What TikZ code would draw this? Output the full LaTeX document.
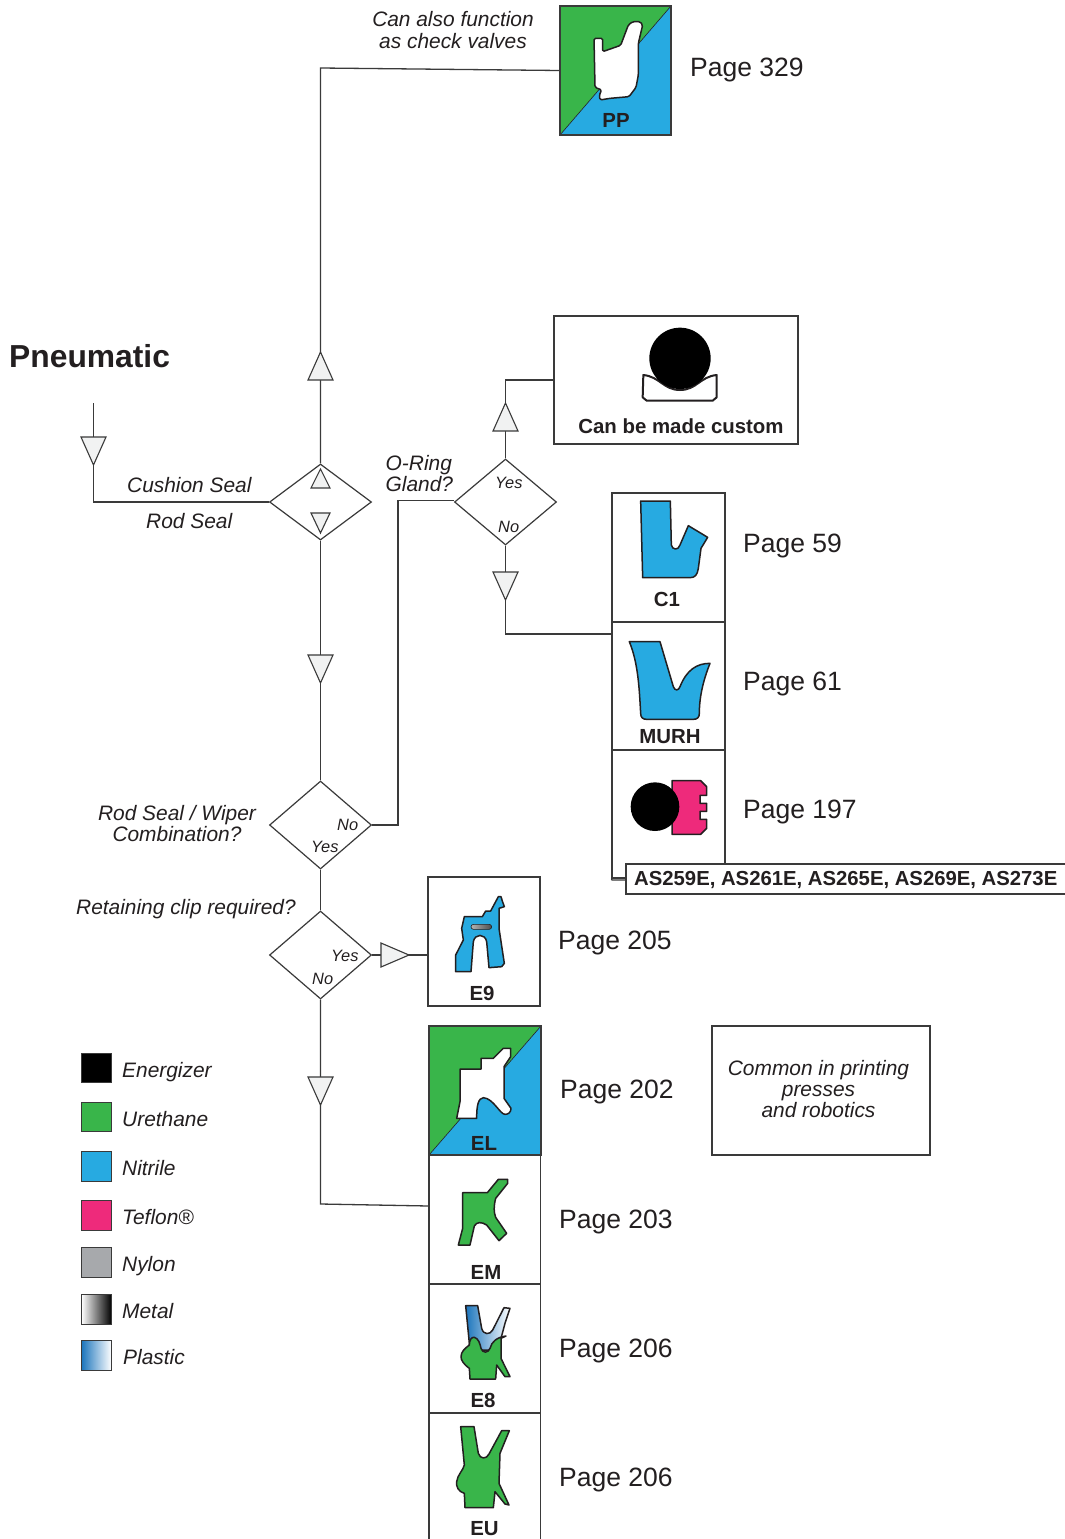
\documentclass[tikz,border=0pt]{standalone}
\usepackage{fontspec}
\setmainfont{Liberation Sans}
\usetikzlibrary{shapes.geometric}
\definecolor{ink}{HTML}{231F20}
\definecolor{rule}{HTML}{3A3A3A}
\definecolor{sealgreen}{HTML}{39B54A}
\definecolor{sealblue}{HTML}{27AAE1}
\definecolor{sealpink}{HTML}{EE2A7B}
\definecolor{sealgray}{HTML}{A7A9AC}
\definecolor{plasticblue}{HTML}{1C75BC}
\definecolor{trifill}{HTML}{F1F2F2}
\newcommand{\triup}[2]{\draw[tri] (#1-12.5,#2+28) -- (#1,#2) -- (#1+12.5,#2+28) -- cycle;}
\newcommand{\tridown}[2]{\draw[tri] (#1-12.5,#2) -- (#1,#2+28) -- (#1+12.5,#2) -- cycle;}
\tikzset{
  every node/.style={text=ink},
  conn/.style={draw=rule,line width=1.3pt},
  tri/.style={draw=rule,line width=1.1pt,fill=trifill,line join=miter},
  choice/.style={diamond,draw=rule,line width=1.2pt,inner sep=0pt,aspect=1.3,minimum width=102pt},
  box/.style={rectangle,draw=rule,line width=1.2pt,inner sep=0pt,fill=white},
  duo/.style={rectangle,draw=rule,line width=1.2pt,inner sep=0pt,path picture={
    \fill[sealgreen] (path picture bounding box.north west) -- (path picture bounding box.north east) -- (path picture bounding box.south west) -- cycle;
    \fill[sealblue] (path picture bounding box.south east) -- (path picture bounding box.north east) -- (path picture bounding box.south west) -- cycle;
    \draw[ink,line width=.6pt] (path picture bounding box.north east) -- (path picture bounding box.south west);}},
  seal/.style={draw=ink,line width=1.5pt,line join=round},
  swatch/.style={rectangle,draw=rule,line width=1.2pt,inner sep=0pt,minimum width=30pt,minimum height=29.5pt},
  pg/.style={anchor=base west,inner sep=0pt,font=\fontsize{26.5}{27}\selectfont},
  tag/.style={anchor=base,inner sep=0pt,font=\fontsize{20.4}{21}\selectfont\bfseries},
  note/.style={anchor=base west,inner sep=0pt,font=\fontsize{20.9}{21}\selectfont\itshape},
  notec/.style={note,anchor=base,align=center},
  small/.style={anchor=base west,inner sep=0pt,font=\fontsize{16.4}{18}\selectfont\itshape},
}
\begin{document}
\begin{tikzpicture}[x=1pt,y=-1pt]
\useasboundingbox[fill=white] (0,0) rectangle (1065,1539);

% decisions
\node[choice,minimum height=76pt] (d1) at (320.5,502) {};
\node[choice,minimum height=86pt] (d2) at (505.5,502) {};
\node[choice,minimum height=88pt] (d3) at (320.5,825) {};
\node[choice,minimum height=88pt] (d4) at (320.5,955) {};

% boxes
\node[duo,minimum width=111pt,minimum height=129pt] (pp) at (615.5,70.5) {};
\node[box,minimum width=244pt,minimum height=128pt] (custom) at (676,380) {};
\node[box,minimum width=113pt,minimum height=129pt] (c1) at (668.5,557.5) {};
\node[box,minimum width=113pt,minimum height=128pt] (murh) at (668.5,686) {};
\node[box,minimum width=113pt,minimum height=128pt] (ptfe) at (668.5,814) {};
\node[box,minimum width=450pt,minimum height=30pt] (asbox) at (851,879) {};
\node[box,minimum width=112pt,minimum height=129pt] (e9) at (484,941.5) {};
\node[duo,minimum width=112pt,minimum height=129pt] (el) at (485,1090.5) {};
\node[box,minimum width=111.5pt,minimum height=129pt] (em) at (484.8,1219.5) {};
\node[box,minimum width=111.5pt,minimum height=129pt] (e8) at (484.8,1348.5) {};
\node[box,minimum width=111.5pt,minimum height=140pt] (eu) at (484.8,1483) {};
\node[box,minimum width=218pt,minimum height=129pt] (common) at (821,1090.5) {};

% connector ends
\coordinate (start) at (93.5,403);
\coordinate (join1) at (612,634);
\coordinate (join2) at (429,1206);
\coordinate (tailfoot) at (612,880);

% connectors
\draw[conn] (start) |- (d1.west);
\draw[conn] (d1.north) -- (320.5,68) -- (pp.west);
\draw[conn] (d1.south) -- (d3.north);
\draw[conn] (d3.south) -- (d4.north);
\draw[conn] (d3.east) -- (398,825) -- (398,500.5) -- ([yshift=1.5pt]d2.west);
\draw[conn] (d2.north) |- (custom.west);
\draw[conn] (d2.south) |- (join1);
\draw[conn] (d4.east) -- (e9.west |- d4.east);
\draw[conn] (d4.south) -- (320.5,1204) -- (join2);
\draw[conn] (ptfe.south west) -- (tailfoot) -- (asbox.west |- tailfoot);

% flow triangles
\tridown{93.5}{437}
\triup{320.5}{352}
\tridown{320.5}{655}
\triup{505.5}{403}
\tridown{505.5}{572}
\tridown{320.5}{1077}
\draw[tri] (311,488) -- (320.5,469) -- (330,488) -- cycle;
\draw[tri] (311,513) -- (320.5,533) -- (330,513) -- cycle;
\draw[tri] (381,943) -- (409,955) -- (381,967) -- cycle;

% PP seal
\begin{scope}[shift={(550,0)},scale=1/3]
\draw[seal,fill=white,rounded corners=1.5pt] (132,115) -- (158,115) -- (158,155) -- (212,136) -- (235,75) -- (248,65) -- (270,65) -- (278,75) -- (265,130) -- (265,225) -- (258,262) -- (237,290) -- (180,295) -- (150,300) -- (148,285) -- (155,270) -- (135,262) -- cycle;
\end{scope}
% custom O-ring
\begin{scope}[shift={(550,310)},scale=1/3]
\draw[seal,line width=2pt,fill=white] (280,195) .. controls (330,200) and (340,240) .. (390,240) .. controls (440,240) and (450,200) .. (500,195) -- (500,262) -- (488,272) -- (290,272) -- (278,262) -- cycle;
\fill[black] (390,145) circle (92);
\end{scope}
% C1, MURH
\begin{scope}[shift={(610,490)},scale=1/3]
\draw[seal,fill=sealblue] (92,33) -- (181,33) -- (184,165) .. controls (187,180) and (205,182) .. (210,165) -- (235,107) -- (293,142) -- (273,175) -- (265,235) .. controls (262,255) and (255,263) .. (240,263) -- (98,263) -- cycle;
\draw[seal,fill=sealblue] (58,455) -- (150,455) -- (190,590) .. controls (195,603) and (205,603) .. (210,590) .. controls (230,540) and (260,520) .. (300,520) .. controls (280,570) and (268,620) .. (268,670) .. controls (268,682) and (262,688) .. (250,688) -- (110,688) .. controls (98,688) and (92,682) .. (92,670) .. controls (88,600) and (85,520) .. (58,455) -- cycle;
\end{scope}
% PTFE seal
\begin{scope}[shift={(610,750)},scale=1/3]
\draw[seal,fill=sealpink] (186,92) -- (272,92) -- (290,110) -- (290,136) -- (270,136) -- (270,160) -- (290,160) -- (290,184) -- (270,184) -- (270,208) -- (290,208) -- (290,235) -- (272,253) -- (186,253) -- cycle;
\fill[black] (135,170) circle (73);
\end{scope}
% E9, EL
\begin{scope}[shift={(425,875)},scale=1/3]
\draw[seal,fill=sealblue] (118,125) -- (172,125) -- (182,108) -- (197,108) -- (220,65) -- (228,65) -- (232,78) -- (238,95) -- (222,100) -- (222,160) -- (238,265) -- (230,275) -- (192,278) -- (185,200) .. controls (180,175) and (150,175) .. (145,200) -- (138,290) -- (92,290) -- (92,240) -- (115,195) -- (110,160) -- cycle;
\draw[seal,line width=.6pt,rounded corners=2.5pt,left color=gray!60,middle color=white,right color=black!70] (138,148) rectangle (200,163);
\draw[seal,fill=white] (105,582) -- (168,582) -- (168,550) -- (205,550) -- (235,520) -- (257,520) -- (257,545) -- (237,575) -- (237,670) -- (258,700) .. controls (258,712) and (250,718) .. (240,718) .. controls (225,718) and (205,670) .. (175,668) .. controls (160,670) and (155,690) .. (155,730) -- (95,730) -- (105,680) -- cycle;
\end{scope}
% EM, E8, EU
\begin{scope}[shift={(425,1160)},scale=1/3]
\draw[seal,fill=sealgreen] (113,98) -- (187,98) -- (220,58) -- (248,58) -- (248,70) -- (212,115) .. controls (206,140) and (206,155) .. (212,172) -- (245,220) -- (222,242) -- (185,195) .. controls (170,185) and (155,185) .. (148,198) -- (135,255) -- (100,255) -- (113,205) -- cycle;
\draw[seal,left color=plasticblue,right color=white] (122,437) -- (158,437) -- (170,505) .. controls (175,525) and (195,525) .. (203,510) -- (237,443) -- (255,445) -- (240,490) -- (228,535) -- (228,570) -- (135,570) -- cycle;
\draw[seal,fill=sealgreen] (133,555) .. controls (133,540) and (140,530) .. (148,532) .. controls (160,535) and (165,550) .. (168,565) .. controls (172,580) and (190,580) .. (195,565) .. controls (200,545) and (215,532) .. (243,528) -- (228,535) -- (228,595) -- (255,650) -- (240,650) -- (215,615) -- (212,657) -- (135,657) -- (133,625) .. controls (115,612) and (108,600) .. (108,590) .. controls (108,575) and (120,565) .. (133,555) -- cycle;
\draw[seal,fill=sealgreen] (107,800) -- (147,800) -- (160,880) .. controls (165,898) and (185,898) .. (192,882) -- (230,812) -- (253,812) -- (225,880) -- (222,970) -- (252,1035) -- (240,1032) -- (210,995) -- (205,1043) -- (120,1043) -- (118,1000) .. controls (100,995) and (93,980) .. (95,965) .. controls (97,945) and (115,930) .. (118,915) -- cycle;
\end{scope}

% legend
\node[swatch,fill=black] (s1) at (96.5,1068) {};
\node[swatch,fill=sealgreen] (s2) at (96.5,1117) {};
\node[swatch,fill=sealblue] (s3) at (96.5,1166.5) {};
\node[swatch,fill=sealpink] (s4) at (96.5,1215.5) {};
\node[swatch,fill=sealgray] (s5) at (96.5,1262.5) {};
\node[swatch,left color=white,right color=black] (s6) at (96.5,1309.5) {};
\node[swatch,left color=plasticblue,right color=white] (s7) at (96.5,1355.5) {};
\node[note] (l1) at (122,1077) {Energizer};
\node[note] (l2) at (122,1126) {Urethane};
\node[note] (l3) at (122,1175) {Nitrile};
\node[note] (l4) at (122,1224) {Teflon®};
\node[note] (l5) at (122,1271) {Nylon};
\node[note] (l6) at (122,1318) {Metal};
\node[note] (l7) at (123,1364) {Plastic};

% page references
\node[pg] (p329) at (690,76) {Page 329};
\node[pg] (p59) at (743,552) {Page 59};
\node[pg] (p61) at (743,690) {Page 61};
\node[pg] (p197) at (743,818) {Page 197};
\node[pg] (p205) at (558,949) {Page 205};
\node[pg] (p202) at (560,1098) {Page 202};
\node[pg] (p203) at (559,1228) {Page 203};
\node[pg] (p206a) at (559,1357) {Page 206};
\node[pg] (p206b) at (559,1486) {Page 206};

% seal names
\node[tag] (tpp) at (616,127) {PP};
\node[tag] (tc1) at (667,606) {C1};
\node[tag] (tmurh) at (670,743) {MURH};
\node[tag] (te9) at (482,1000) {E9};
\node[tag] (tel) at (484,1150) {EL};
\node[tag] (tem) at (486,1279) {EM};
\node[tag] (te8) at (483,1407) {E8};
\node[tag] (teu) at (484.5,1535.5) {EU};
\node[tag] (tcustom) at (681,433) {Can be made custom};
\node[tag,anchor=base west,font=\fontsize{20.3}{21}\selectfont\bfseries] (tas) at (634,885) {AS259E, AS261E, AS265E, AS269E, AS273E};

% titles and questions
\node[anchor=base west,inner sep=0pt,font=\fontsize{31.8}{32}\selectfont\bfseries] (title) at (9,367) {Pneumatic};
\node[notec] (qcheck) at (453,48) {Can also function\\as check valves};
\node[note] (qcush) at (127,492) {Cushion Seal};
\node[note] (qrod) at (146,528) {Rod Seal};
\node[note,align=left] (qoring) at (385.5,491) {O-Ring\\Gland?};
\node[notec] (qwiper) at (177,841) {Rod Seal / Wiper\\Combination?};
\node[note] (qclip) at (76,914) {Retaining clip required?};
\node[notec] (qcommon) at (818.5,1117) {Common in printing\\presses\\and robotics};

% branch answers
\node[small] (y2) at (495,488) {Yes};
\node[small] (n2) at (498,532) {No};
\node[small] (n3) at (337,830) {No};
\node[small] (y3) at (311,852) {Yes};
\node[small] (y4) at (331,961) {Yes};
\node[small] (n4) at (312,984) {No};
\end{tikzpicture}
\end{document}
